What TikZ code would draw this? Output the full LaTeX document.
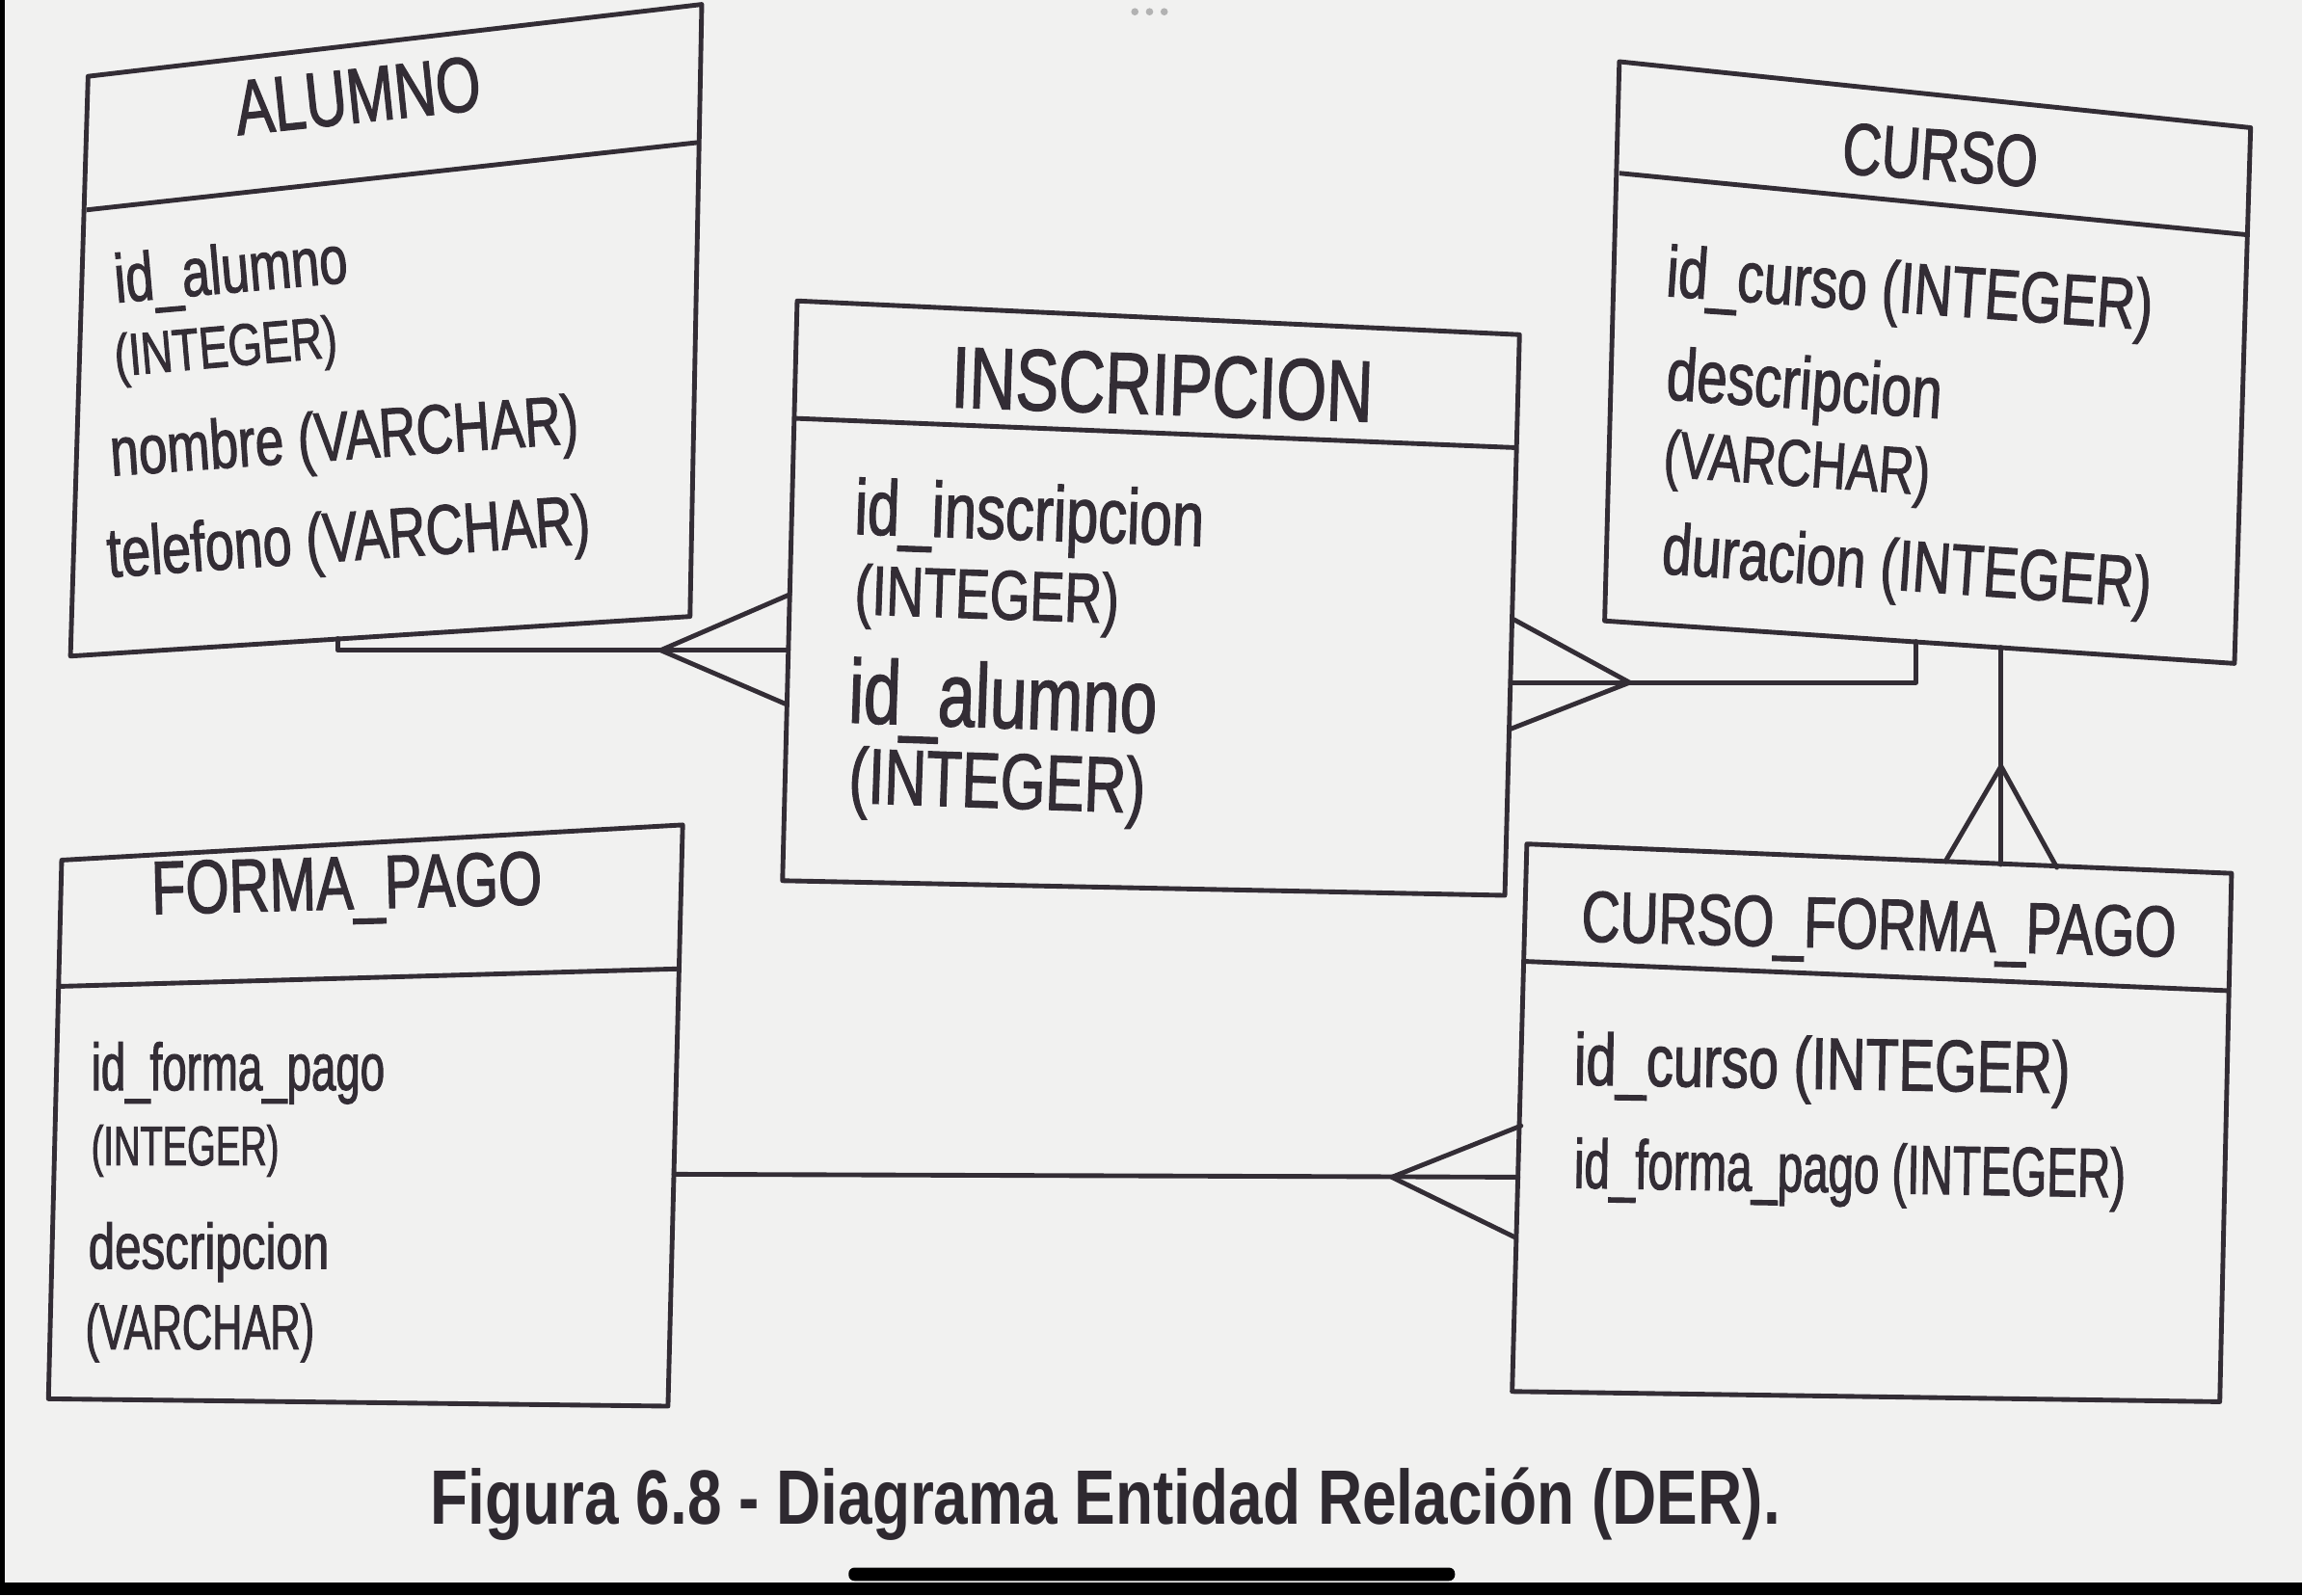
\documentclass[tikz,border=0pt]{standalone}
\usepackage{fontspec}
\newfontfamily\erfont[FakeStretch=0.74,FakeBold=1.5]{Liberation Sans}
\newfontfamily\erfontn[FakeStretch=0.66,FakeBold=1.5]{Liberation Sans}
\newfontfamily\capfont[FakeStretch=0.8]{Liberation Sans}
\definecolor{ink}{HTML}{332D35}
\definecolor{paper}{HTML}{F1F1F0}
% font size in pt (picture units are pt as well)
\newcommand\fs[1]{\fontsize{#1}{#1}\selectfont}

\begin{document}
\begin{tikzpicture}[x=1pt,y=-1pt,
  entity/.style={draw=ink, line width=3.2pt, line join=round},
  rel/.style={draw=ink, line width=3.2pt, line cap=round, line join=round},
  lbl/.style={anchor=west, inner sep=0pt, text=ink, font=\erfont},
  lbln/.style={anchor=west, inner sep=0pt, text=ink, font=\erfontn}]

% page
\fill[paper] (0,0) rectangle (1568,1087);
\useasboundingbox (0,0) rectangle (1568,1087);
\fill[black] (0,0) rectangle (3,1087);
\fill[black] (0,1078) rectangle (1568,1087);
\fill[black, rounded corners=4pt] (578,1068) rectangle (991,1077);
\foreach \dx in {-10,0,10} \fill[gray!60] (783+\dx,8) circle (2.5);

% ---------- ALUMNO ----------
\coordinate (alu-tl) at (60,52);   \coordinate (alu-tr) at (478,3);
\coordinate (alu-br) at (470,420); \coordinate (alu-bl) at (48,447);
\coordinate (alu-hl) at (59,143);  \coordinate (alu-hr) at (476,97);
\draw[entity] (alu-tl) -- (alu-tr) -- (alu-br) -- (alu-bl) -- cycle;
\draw[entity] (alu-hl) -- (alu-hr);
\node[lbl, rotate=6] (alu-t) at (160,74) {\fs{53}ALUMNO};
\node[lbl, rotate=5] (alu-a1) at (78,194) {\fs{46.6}id\_alumno};
\node[lbl, rotate=5] (alu-a2) at (78,246) {\fs{40.2}(INTEGER)};
\node[lbl, rotate=4] (alu-a3) at (75,312) {\fs{47.2}nombre (VARCHAR)};
\node[lbl, rotate=4] (alu-a4) at (73,381) {\fs{47.8}telefono (VARCHAR)};

% ---------- INSCRIPCION ----------
\coordinate (ins-tl) at (543,205);  \coordinate (ins-tr) at (1035,228);
\coordinate (ins-br) at (1025,610); \coordinate (ins-bl) at (533,600);
\coordinate (ins-hl) at (541,285);  \coordinate (ins-hr) at (1033,305);
\draw[entity] (ins-tl) -- (ins-tr) -- (ins-br) -- (ins-bl) -- cycle;
\draw[entity] (ins-hl) -- (ins-hr);
\node[lbl, rotate=-2] (ins-t) at (648,257) {\fs{59.2}INSCRIPCION};
\node[lbl, rotate=-2] (ins-a1) at (582,350) {\fs{53.1}id\_inscripcion};
\node[lbl, rotate=-2] (ins-a2) at (582,406) {\fs{47.6}(INTEGER)};
\node[lbl, rotate=-2] (ins-a3) at (578,476) {\fs{61.5}id\_alumno};
\node[lbl, rotate=-2] (ins-a4) at (578,533) {\fs{53.4}(INTEGER)};

% ---------- CURSO ----------
\coordinate (cur-tl) at (1103,42);   \coordinate (cur-tr) at (1533,87);
\coordinate (cur-br) at (1522,452);  \coordinate (cur-bl) at (1093,423);
\coordinate (cur-hl) at (1103,118);  \coordinate (cur-hr) at (1531,160);
\draw[entity] (cur-tl) -- (cur-tr) -- (cur-br) -- (cur-bl) -- cycle;
\draw[entity] (cur-hl) -- (cur-hr);
\node[lbl, rotate=-4] (cur-t) at (1255,101) {\fs{49.8}CURSO};
\node[lbl, rotate=-4] (cur-a1) at (1135,189) {\fs{48.9}id\_curso (INTEGER)};
\node[lbl, rotate=-4] (cur-a2) at (1135,259) {\fs{50.2}descripcion};
\node[lbl, rotate=-4] (cur-a3) at (1133,313) {\fs{44.8}(VARCHAR)};
\node[lbl, rotate=-4] (cur-a4) at (1132,378) {\fs{48.9}duracion (INTEGER)};

% ---------- FORMA_PAGO ----------
\coordinate (fp-tl) at (42,586);   \coordinate (fp-tr) at (465,562);
\coordinate (fp-br) at (455,958);  \coordinate (fp-bl) at (33,953);
\coordinate (fp-hl) at (41,672);   \coordinate (fp-hr) at (464,660);
\draw[entity] (fp-tl) -- (fp-tr) -- (fp-br) -- (fp-bl) -- cycle;
\draw[entity] (fp-hl) -- (fp-hr);
\node[lbl, rotate=1.5] (fp-t) at (103,610) {\fs{51.5}FORMA\_PAGO};
\node[lbln] (fp-a1) at (62,731) {\fs{45.4}id\_forma\_pago};
\node[lbln] (fp-a2) at (62,784) {\fs{37.9}(INTEGER)};
\node[lbl] (fp-a3) at (60,853) {\fs{43.8}descripcion};
\node[lbln] (fp-a4) at (58,908) {\fs{43.1}(VARCHAR)};

% ---------- CURSO_FORMA_PAGO ----------
\coordinate (cfp-tl) at (1040,575);  \coordinate (cfp-tr) at (1520,595);
\coordinate (cfp-br) at (1512,955);  \coordinate (cfp-bl) at (1030,948);
\coordinate (cfp-hl) at (1039,655);  \coordinate (cfp-hr) at (1519,675);
\draw[entity] (cfp-tl) -- (cfp-tr) -- (cfp-br) -- (cfp-bl) -- cycle;
\draw[entity] (cfp-hl) -- (cfp-hr);
\node[lbl, rotate=-1.5] (cfp-t) at (1077,629) {\fs{49.1}CURSO\_FORMA\_PAGO};
\node[lbl, rotate=-1] (cfp-a1) at (1072,726) {\fs{49.8}id\_curso (INTEGER)};
\node[lbln, rotate=-1] (cfp-a2) at (1072,797) {\fs{47.2}id\_forma\_pago (INTEGER)};

% ---------- relationships ----------
% ALUMNO 1 -- N INSCRIPCION
\coordinate (r1-a) at (230,435);
\coordinate (r1-b) at (537,443);
\coordinate (r1-t) at (450,443);
\coordinate (r1-u) at (538,405);
\coordinate (r1-d) at (536,480);
\draw[rel] (r1-a) |- (r1-b);
\draw[rel] (r1-u) -- (r1-t) -- (r1-d);

% CURSO 1 -- N INSCRIPCION
\coordinate (r2-a) at (1305,437);
\coordinate (r2-b) at (1029,465);
\coordinate (r2-t) at (1110,465);
\coordinate (r2-u) at (1031,422);
\coordinate (r2-d) at (1028,497);
\draw[rel] (r2-a) |- (r2-b);
\draw[rel] (r2-u) -- (r2-t) -- (r2-d);

% CURSO 1 -- N CURSO_FORMA_PAGO
\coordinate (r3-a) at (1363,441);
\coordinate (r3-b) at (1363,589);
\coordinate (r3-t) at (1363,522);
\coordinate (r3-l) at (1325,587);
\coordinate (r3-r) at (1401,591);
\draw[rel] (r3-a) -- (r3-b);
\draw[rel] (r3-l) -- (r3-t) -- (r3-r);

% FORMA_PAGO 1 -- N CURSO_FORMA_PAGO
\coordinate (r4-a) at (459,800);
\coordinate (r4-b) at (1034,802);
\coordinate (r4-t) at (948,802);
\coordinate (r4-u) at (1036,767);
\coordinate (r4-d) at (1032,843);
\draw[rel] (r4-a) -- (r4-b);
\draw[rel] (r4-u) -- (r4-t) -- (r4-d);

% caption
\node[anchor=west, inner sep=0pt, text=ink!90!black, font=\capfont\bfseries] (cap) at (293,1025)
  {\fs{52.5}Figura 6.8 - Diagrama Entidad Relación (DER).};
\end{tikzpicture}
\end{document}
